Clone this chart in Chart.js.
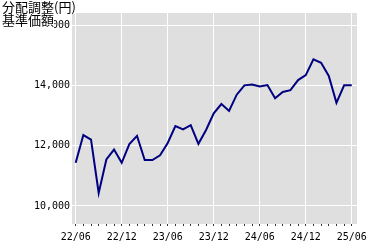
<!DOCTYPE html>
<html>
<head>
<meta charset="utf-8">
<script src="https://cdn.jsdelivr.net/npm/chart.js@4"></script>
<style>
  body { margin: 0; background: #fff; }
  #wrap { position: relative; width: 380px; height: 250px; }
  #title {
    position: absolute; left: 2px; top: 1px;
    font: 13px "Noto Sans CJK JP", sans-serif; line-height: 12px;
    color: #000;
  }
  #title span { display: inline-block; background: #fff; height: 13px; vertical-align: top; }
  #title span.l2 { height: 17px; }
</style>
</head>
<body>
<div id="wrap">
  <canvas id="myChart" width="380" height="250"></canvas>
  <div id="title"><span>分配調整(円)</span><br><span class="l2">基準価額</span></div>
</div>
<script>
// monthly labels, 22/06 .. 25/06
const months = [
  '22/06','22/07','22/08','22/09','22/10','22/11','22/12',
  '23/01','23/02','23/03','23/04','23/05','23/06',
  '23/07','23/08','23/09','23/10','23/11','23/12',
  '24/01','24/02','24/03','24/04','24/05','24/06',
  '24/07','24/08','24/09','24/10','24/11','24/12',
  '25/01','25/02','25/03','25/04','25/05','25/06'
];
// adjusted NAV (yen)
const nav = [
  11430, 12350, 12200, 10430, 11540, 11870, 11430,
  12050, 12325, 11520, 11520, 11680, 12090,
  12650, 12540, 12680, 12060, 12520, 13070,
  13380, 13150, 13690, 14000, 14030, 13960,
  14010, 13570, 13780, 13840, 14175, 14340,
  14860, 14750, 14310, 13420, 14000, 14000
];
const yTicks = [10000, 12000, 14000, 16000];

const monoFont = { family: 'DejaVu Sans Mono', size: 10 };

// gray plot background
const plotBg = {
  id: 'plotBg',
  beforeDraw(chart) {
    const a = chart.chartArea, c = chart.ctx;
    c.save();
    c.fillStyle = '#dfdfdf';
    c.fillRect(a.left, a.top, a.right - a.left, a.bottom - a.top);
    c.restore();
  }
};

const ctx = document.getElementById('myChart').getContext('2d');
new Chart(ctx, {
  type: 'line',
  data: {
    datasets: [{
      data: nav.map((v, i) => ({ x: i, y: v })),
      borderColor: '#000080',
      borderWidth: 2,
      pointRadius: 0,
      tension: 0,
      fill: false
    }]
  },
  options: {
    responsive: false,
    animation: false,
    layout: { padding: { top: 13, right: 23, left: 0, bottom: 0 } },
    plugins: { legend: { display: false }, tooltip: { enabled: false } },
    scales: {
      x: {
        type: 'linear',
        min: -0.48,
        max: 36.68,
        afterBuildTicks: s => { s.ticks = months.map((m, i) => ({ value: i })); },
        afterFit: s => { s.height = 26; },
        border: { display: false },
        grid: {
          color: c => (c.tick && c.tick.value % 6 === 0) ? '#ffffff' : 'rgba(0,0,0,0)',
          lineWidth: 1,
          tickColor: '#333',
          tickLength: 2
        },
        ticks: {
          autoSkip: false,
          maxRotation: 0,
          padding: 5,
          color: '#000',
          font: monoFont,
          callback: v => (v % 6 === 0 ? months[v] : '')
        }
      },
      y: {
        min: 9400,
        max: 16400,
        afterBuildTicks: s => { s.ticks = yTicks.map(v => ({ value: v })); },
        afterFit: s => { s.width = 72; },
        border: { display: false },
        grid: { color: '#ffffff', lineWidth: 1, drawTicks: false },
        ticks: {
          padding: 2,
          color: '#000',
          font: monoFont,
          callback: v => v.toLocaleString('en-US')
        }
      }
    }
  },
  plugins: [plotBg]
});
</script>
</body>
</html>
